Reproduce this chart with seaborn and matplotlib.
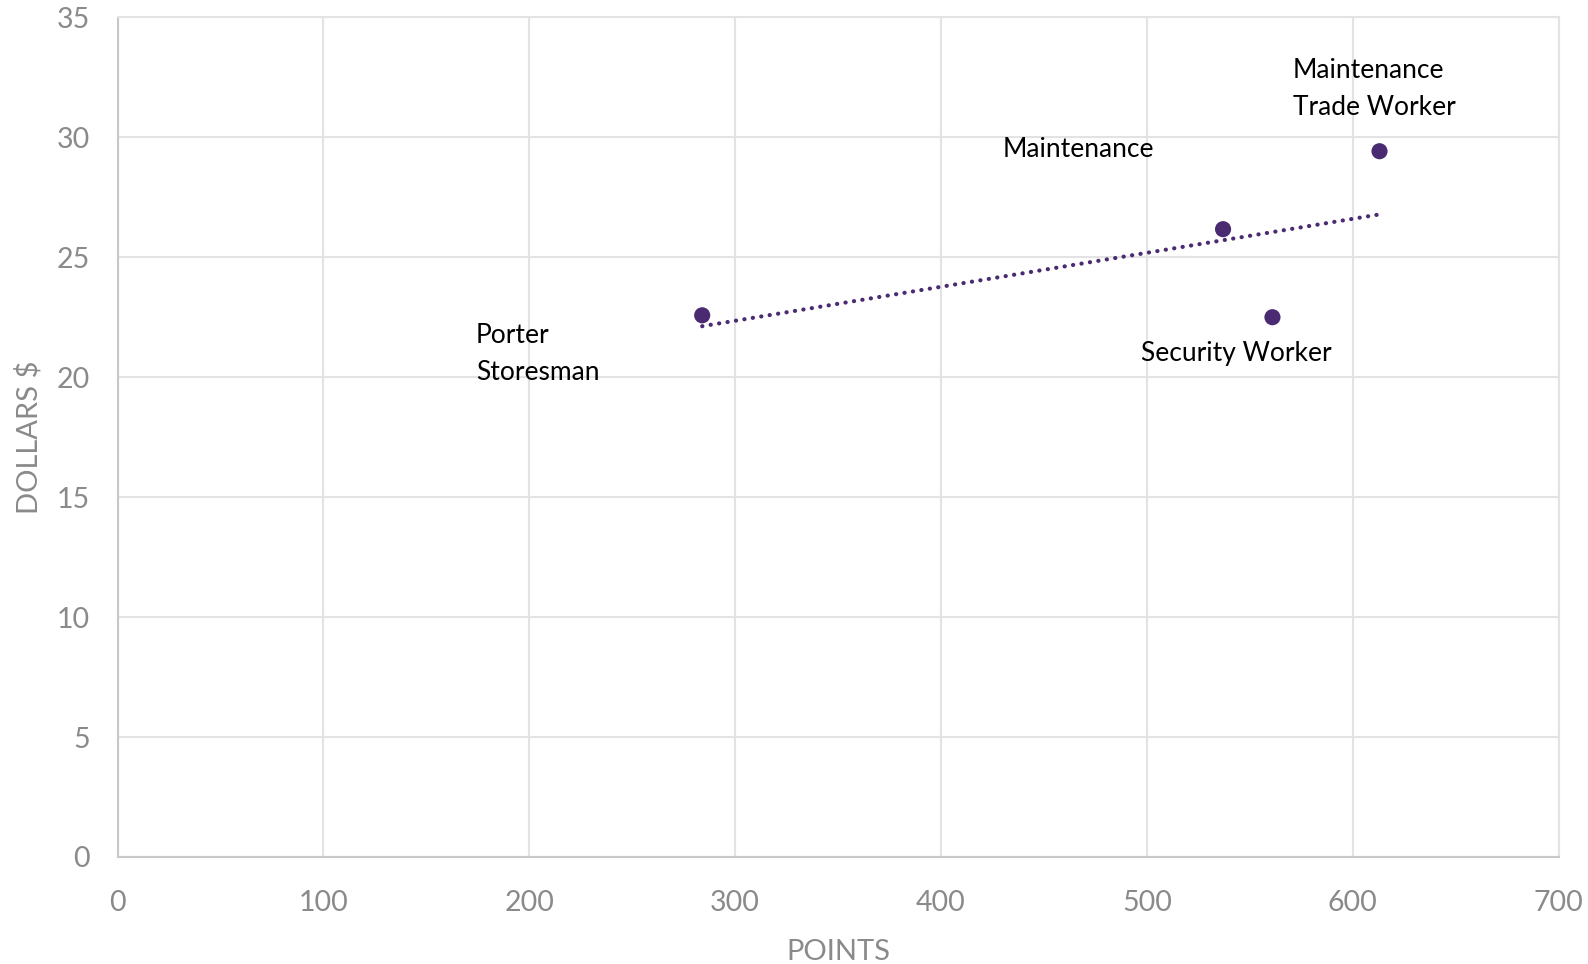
import numpy as np
import pandas as pd
import matplotlib
matplotlib.use("Agg")
import matplotlib.pyplot as plt
import seaborn as sns

# データ
points = [284, 537, 561, 613]
dollars = [22.58, 26.17, 22.5, 29.42]

# ラベル (テキスト, x, y)
label_texts = ["Porter\nStoresman", "Maintenance", "Security Worker", "Maintenance\nTrade Worker"]
label_x = [174, 430, 497, 571]
label_y = [20.95, 29.5, 20.98, 32.0]

x_ticks = [0, 100, 200, 300, 400, 500, 600, 700]
y_ticks = [0, 5, 10, 15, 20, 25, 30, 35]

PURPLE = "#4a2b72"
GRID = "#e3e3e3"
TICK_GREY = "#8a8a8a"

sns.set_theme(style="white")
plt.rcParams['font.family'] = ['Lato', 'DejaVu Sans']

df = pd.DataFrame({"points": points, "dollars": dollars})

fig = plt.figure(figsize=(15.88, 9.64), dpi=100)
ax = fig.add_axes([0.074, 0.111, 0.9075, 0.871])

# 近似直線
slope, intercept = np.polyfit(df["points"], df["dollars"], 1)
xs = np.array([df["points"].min(), df["points"].max()])
ax.plot(xs, slope * xs + intercept, color=PURPLE, linewidth=3,
        linestyle=(0, (0.05, 2.0)), dash_capstyle="round", zorder=2)

sns.scatterplot(data=df, x="points", y="dollars", ax=ax, color=PURPLE,
                s=135, edgecolor="none", zorder=3)

for t, x, y in zip(label_texts, label_x, label_y):
    ax.text(x, y, t, fontsize=19, color="black", ha="left", va="center",
            linespacing=1.6, zorder=4)

ax.set_xlim(0, 700)
ax.set_ylim(0, 35)
ax.set_xticks(x_ticks)
ax.set_yticks(y_ticks)
ax.grid(True, color=GRID, linewidth=1.5)
ax.set_axisbelow(True)
for side in ["top", "right"]:
    ax.spines[side].set_color(GRID)
    ax.spines[side].set_linewidth(1.5)
for side in ["left", "bottom"]:
    ax.spines[side].set_color("#c8c8c8")
    ax.spines[side].set_linewidth(1.5)
ax.tick_params(axis="both", length=0, labelsize=20.5, colors=TICK_GREY)
ax.tick_params(axis="x", pad=24)
ax.tick_params(axis="y", pad=20)

ax.set_xlabel("POINTS", fontsize=21, color=TICK_GREY, labelpad=16)
ax.set_ylabel("DOLLARS $", fontsize=21, color=TICK_GREY, labelpad=10)

fig.savefig("out.png", dpi=100)
